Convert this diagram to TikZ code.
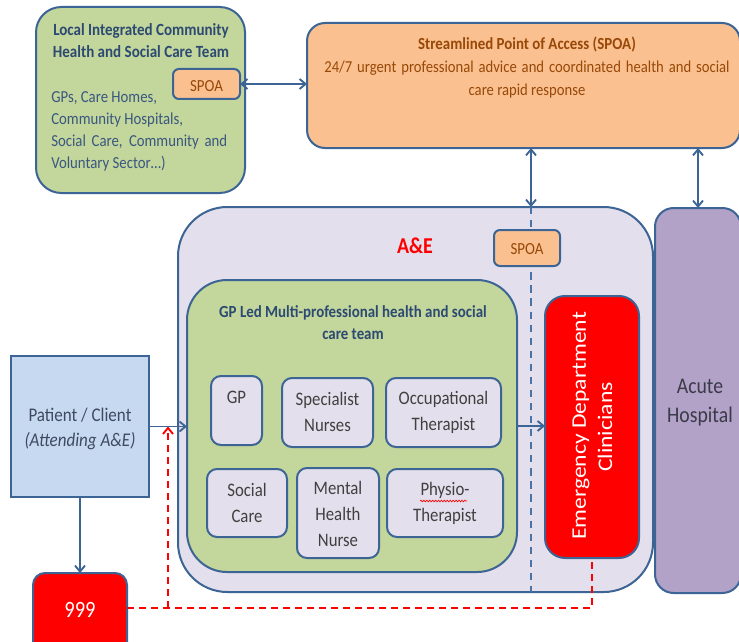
\documentclass[tikz,border=0pt]{standalone}
\usepackage{fontspec}
\usepackage{graphicx}
\setmainfont{Carlito}[FakeStretch=0.88]
\newfontfamily\edfont{Carlito}
\usetikzlibrary{fit,arrows.meta,decorations.pathmorphing}
\definecolor{bord}{HTML}{3C6494}
\definecolor{grn}{HTML}{C3D69B}
\definecolor{org}{HTML}{FAC090}
\definecolor{lav}{HTML}{E4DFEC}
\definecolor{pur}{HTML}{B2A2C7}
\definecolor{pblue}{HTML}{C6D9F1}
\definecolor{navy}{HTML}{2C4A72}
\definecolor{navytwo}{HTML}{3A5780}
\definecolor{brn}{HTML}{984807}
\definecolor{gtxt}{HTML}{404040}
\definecolor{ptxt}{HTML}{3F4A60}
\definecolor{atxt}{HTML}{3A3A48}
\definecolor{dblue}{HTML}{4A74A8}
\begin{document}
\begin{tikzpicture}[x=0.75pt,y=-0.75pt,
  bx/.style={draw=bord, line width=1.5pt, inner sep=0pt, outer sep=0pt},
  ib/.style={bx, fill=lav, rounded corners=7.5pt},
  lbl/.style={inner sep=0pt, anchor=base, align=center},
  itx/.style={lbl, text=gtxt, font=\fontsize{14.3}{19.5}\selectfont},
  spt/.style={inner sep=0pt, text=brn, font=\fontsize{12.7}{15}\selectfont},
  arr/.style={draw=bord, line width=1.4pt, -{Straight Barb[length=4.5pt,width=7.5pt]}},
  darr/.style={draw=bord, line width=1.4pt, {Straight Barb[length=4.5pt,width=7.5pt]}-{Straight Barb[length=4.5pt,width=7.5pt]}},
  bdash/.style={draw=dblue, line width=1.3pt, dash pattern=on 5.4pt off 4.4pt},
  rdash/.style={draw=red, line width=1.4pt, dash pattern=on 5.5pt off 3.5pt}]
\useasboundingbox (0,0) rectangle (739,642);
\fill[white] (0,0) rectangle (739,642);
\clip (0,0) rectangle (739,642);

% Local integrated team
\node[bx, fill=grn, rounded corners=19pt, fit={(36,7) (245,193)}] (lic) {};
\node[lbl, text=navy, font=\bfseries\fontsize{12.8}{16.5}\selectfont] (lictitle) at (141,58) {Local Integrated Community\\Health and Social Care Team};
\node[lbl, anchor=base west, align=left, text=navytwo, font=\fontsize{12.6}{16.5}\selectfont] (licbody) at (51,168) {GPs, Care Homes,\\Community Hospitals,\\\makebox[132pt][s]{Social Care, Community and}\\Voluntary Sector\ldots)};
\node[bx, fill=org, rounded corners=4.5pt, fit={(173,69) (240,99)}] (spoa1) {};
\node[spt] (spoa1t) at (206.5,86) {SPOA};

% Streamlined point of access
\node[bx, fill=org, rounded corners=13.5pt, fit={(307,23) (740,148)}] (spoa) {};
\node[lbl, text=brn, font=\bfseries\fontsize{12.7}{15}\selectfont] (spoatitle) at (527,50) {Streamlined Point of Access (SPOA)};
\node[lbl, text=brn, font=\fontsize{12.5}{17}\selectfont] (spoabody) at (527,95) {\makebox[304pt][s]{24/7 urgent professional advice and coordinated health and social}\\care rapid response};

% A&E
\node[bx, fill=lav, rounded corners=37pt, fit={(178,207) (653,592)}] (ae) {};
\node[lbl, text=red, font=\bfseries\fontsize{17}{20}\selectfont] (aet) at (415,253) {A\&E};
\coordinate (dtop) at (531,207);
\coordinate (dbot) at (531,592);
\draw[bdash] (dtop) -- (dbot);
\node[bx, fill=org, rounded corners=4.5pt, fit={(494,230) (560,266)}] (spoa2) {};
\node[spt] (spoa2t) at (527,249) {SPOA};

% GP led team
\node[bx, fill=grn, rounded corners=30pt, fit={(187,280) (517,572)}] (gpl) {};
\node[lbl, text=navy, font=\bfseries\fontsize{12.7}{16.5}\selectfont] (gplt) at (353,339) {GP Led Multi-professional health and social\\care team};

\node[ib, fit={(211,376) (262,445)}] (gp) {};
\node[itx] (gpt) at (236.5,403) {GP};
\node[ib, fit={(282,378) (373,447)}] (sn) {};
\node[itx] (snt) at (327.5,431) {Specialist\\Nurses};
\node[ib, fit={(386,378) (501,447)}] (ot) {};
\node[itx] (ott) at (443.5,430) {Occupational\\Therapist};
\node[ib, fit={(207,469) (287,537)}] (sc) {};
\node[itx] (sct) at (247,522) {Social\\Care};
\node[ib, fit={(297,468) (379,558)}] (mh) {};
\node[itx] (mht) at (338,546) {Mental\\Health\\Nurse};
\node[ib, fit={(387,469) (503,537)}] (pt) {};
\node[itx] (ptt) at (445,521) {Physio-\\Therapist};
\draw[red, line width=0.5pt, decorate, decoration={snake, amplitude=0.6pt, segment length=2.2pt}] (420,501) -- (467,501);

% Emergency department
\node[bx, fill=red, rounded corners=15pt, fit={(545,296) (639,558)}] (ed) {};
\node[rotate=90, text=white, inner sep=0pt, font=\edfont\fontsize{17.7}{20}\selectfont] (edt1) at (581,426) {\scalebox{1}[0.88]{Emergency Department}};
\node[rotate=90, text=white, inner sep=0pt, font=\edfont\fontsize{17.7}{20}\selectfont] (edt2) at (605,427) {\scalebox{1}[0.88]{Clinicians}};

% Acute hospital
\node[bx, fill=pur, rounded corners=14pt, fit={(655,208) (741,593)}] (acute) {};
\node[lbl, text=atxt, font=\fontsize{16.8}{21.75}\selectfont] (acutet) at (700,422) {Acute\\Hospital};

% Patient
\node[bx, fill=pblue, fit={(11,356) (149,497)}] (pat) {};
\node[lbl, text=ptxt, font=\fontsize{14.5}{18.75}\selectfont] (patt) at (80,446) {Patient / Client\\\textit{(Attending A\&E)}};

% 999
\node[bx, fill=red, rounded corners=9pt, fit={(33,573) (127,660)}] (n999) {};
\node[lbl, text=white, font=\fontsize{17.5}{20}\selectfont] (n999t) at (80,617) {999};

% connectors
\draw[darr] (spoa1.east) -- (spoa1.east -| spoa.west);
\draw[darr] (spoa.south -| dtop) -- (dtop);
\draw[darr] (spoa.south -| acute.north) -- (acute.north);
\draw[arr] (pat.east) -- (pat.east -| gpl.west);
\draw[arr] (pat.south) -- (n999.north);
\draw[arr] (gpl.east) -- (gpl.east -| ed.west);
\coordinate (rb) at (168,608);
\draw[rdash] ([yshift=6.4pt]n999.east) -| (ed.south);
\draw[rdash, -{Straight Barb[length=4.5pt,width=7.5pt]}] (rb) -- (rb |- pat.east);
\end{tikzpicture}
\end{document}
